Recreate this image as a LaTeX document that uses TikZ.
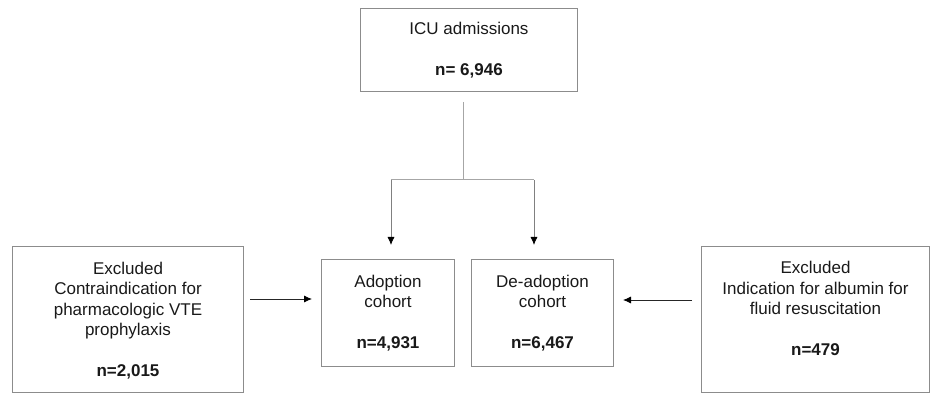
\documentclass[tikz,border=0pt]{standalone}
\usepackage{fontspec}
\setmainfont{Liberation Sans}
\usetikzlibrary{arrows.meta}
\begin{document}
\begin{tikzpicture}[x=1pt,y=-1pt,
  box/.style={draw=black!45, line width=1pt, rectangle, inner sep=0pt, anchor=north west},
  txt/.style={align=center, font=\fontsize{17}{20.5}\selectfont, text=black!90, inner sep=0pt},
  grayline/.style={draw=black!35, line width=1pt},
  arr/.style={-{Latex[length=8pt,width=7pt,color=black]}, line width=0.8pt, draw=black!85}]
\useasboundingbox (0,0) rectangle (931,403);
% boxes
\node[box, minimum width=217pt, minimum height=83pt] (icu) at (360,8) {};
\node[box, minimum width=231pt, minimum height=146pt] (lex) at (12,246) {};
\node[box, minimum width=133pt, minimum height=107pt] (adop) at (321,259) {};
\node[box, minimum width=142pt, minimum height=107pt] (deadop) at (471,259) {};
\node[box, minimum width=228pt, minimum height=146pt] (rex) at (701,246) {};
% texts
\node[txt] (icut) at (icu.center) {ICU admissions\\[20.5pt]\textbf{n= 6,946}};
\node[txt] (lext) at ([yshift=-1pt]lex.center) {Excluded\\Contraindication for\\pharmacologic VTE\\prophylaxis\\[20.5pt]\textbf{n=2,015}};
\node[txt] (adopt) at (adop.center) {Adoption\\cohort\\[20.5pt]\textbf{n=4,931}};
\node[txt] (deadopt) at (deadop.center) {De-adoption\\cohort\\[20.5pt]\textbf{n=6,467}};
\node[txt] (rext) at ([yshift=11pt]rex.center) {Excluded\\Indication for albumin for\\fluid resuscitation\\[20.5pt]\textbf{n=479}};
% connectors
\coordinate (top) at (463,102);
\coordinate (split) at (463,180);
\coordinate (la) at (391,180);
\coordinate (ra) at (534,180);
\coordinate (lat) at (391,245);
\coordinate (rat) at (534,245);
\draw[grayline] (top) -- (split);
\draw[grayline] (la) -- (ra);
\draw[arr, draw=black!50] (la) -- (lat);
\draw[arr, draw=black!50] (ra) -- (rat);
\coordinate (l1) at (250,299);
\coordinate (l2) at (312,299);
\coordinate (r1) at (692,300);
\coordinate (r2) at (623,300);
\draw[arr] (l1) -- (l2);
\draw[arr] (r1) -- (r2);
\end{tikzpicture}
\end{document}
